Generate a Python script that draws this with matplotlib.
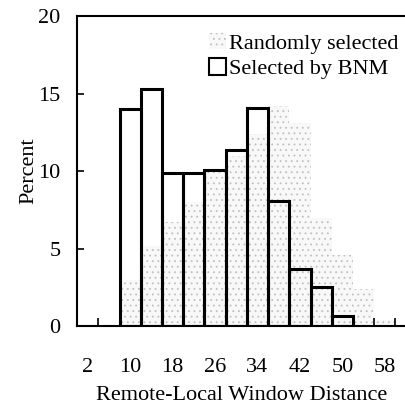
import matplotlib
matplotlib.use('Agg')
import matplotlib.pyplot as plt
from matplotlib.patches import Patch

# bin centres (width 4) and percentages
random_centers = [10, 14, 18, 22, 26, 30, 34, 38, 42, 46, 50, 54, 58]
random_pct = [3.0, 5.2, 6.7, 8.0, 10.0, 11.0, 12.4, 14.2, 13.1, 7.0, 4.6, 2.4, 0.4]

bnm_centers = [10, 14, 18, 22, 26, 30, 34, 38, 42, 46, 50]
bnm_pct = [14.0, 15.3, 9.85, 9.85, 10.05, 11.35, 14.05, 8.1, 3.7, 2.55, 0.68]

xtick_labels = [2, 10, 18, 26, 34, 42, 50, 58]
yticks = [0, 5, 10, 15, 20]

plt.rcParams.update({
    'font.family': 'Liberation Serif',
    'font.size': 16,
    'hatch.color': '#b0b0b0',
    'hatch.linewidth': 0.6,
})

fig = plt.figure(figsize=(4.06, 4.07), dpi=100)
ax = fig.add_axes([0.19, 0.198, 0.81, 0.763])

ax.bar(random_centers, random_pct, width=4, facecolor='#f8f8f8',
       hatch='...', edgecolor='#c0c0c0', linewidth=0)
ax.bar(bnm_centers, bnm_pct, width=4, fill=False, edgecolor='black',
       linewidth=2.2)

ax.set_xlim(0, 62)
ax.set_ylim(0, 20)
ax.set_xticks(xtick_labels)
ax.set_xticks(range(4, 61, 4), minor=True)
ax.set_yticks(yticks)
ax.tick_params(axis='x', which='major', length=0, pad=23, labelsize=16)
ax.tick_params(axis='x', which='minor', direction='in', length=6, width=1.2)
ax.tick_params(axis='y', direction='in', length=5, width=1.2, pad=12,
               labelsize=16)
for s in ['left', 'bottom', 'top']:
    ax.spines[s].set_linewidth(1.5)
ax.spines['right'].set_visible(False)

ax.set_xlabel('Remote-Local Window Distance', fontsize=16, labelpad=6)
ax.set_ylabel('Percent', fontsize=16, labelpad=0)

handles = [
    Patch(facecolor='#f8f8f8', hatch='...', edgecolor='#c0c0c0', linewidth=0),
    Patch(facecolor='white', edgecolor='black', linewidth=1.5),
]
ax.legend(handles, ['Randomly selected', 'Selected by BNM'], loc='upper right',
          bbox_to_anchor=(1.025, 0.995), frameon=False, handlelength=0.75,
          handleheight=0.75, handletextpad=0.15, borderaxespad=0.3,
          labelspacing=0.2, fontsize=16)

fig.savefig('out.png', dpi=100)
